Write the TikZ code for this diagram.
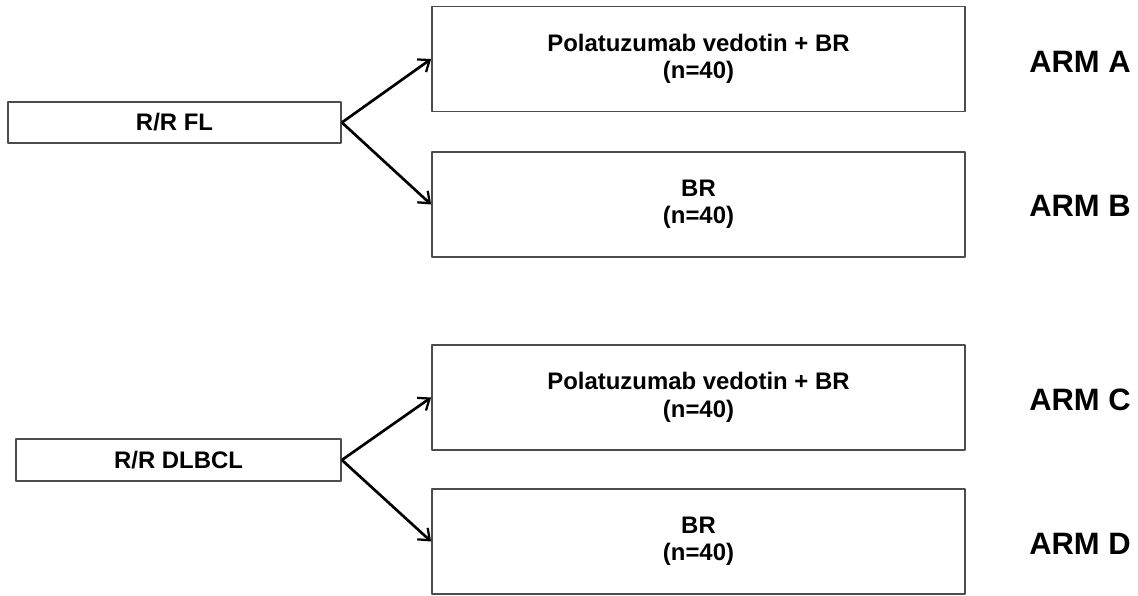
\documentclass[tikz,border=0pt]{standalone}
\usepackage{fontspec}
\setmainfont{Liberation Sans}
\usetikzlibrary{arrows.meta}

\begin{document}
\begin{tikzpicture}[x=0.025cm, y=-0.025cm, line join=round, font=\bfseries\fontsize{17}{19.5}\selectfont,
	grp/.style={draw=black!70, line width=1.2pt, inner sep=0pt, minimum height=1.04cm},
	trt/.style={draw=black!70, line width=1.2pt, inner sep=0pt, align=center, minimum width=13.325cm, minimum height=2.63cm},
	arm/.style={font=\bfseries\fontsize{22}{26}\selectfont},
	arr/.style={-{Straight Barb[length=7pt, width=11pt, line width=1.6pt]}, line width=1.9pt}]
	\useasboundingbox (0,0) rectangle (1138,596);
	% groups
	\node[grp, minimum width=8.325cm] (fl) at (174.5,122.5) {R/R FL};
	\node[grp, minimum width=8.125cm] (dl) at (178.5,460) {R/R DLBCL};
	% treatment arms
	\node[trt] (a) at (698.5,59) {Polatuzumab vedotin + BR\\(n=40)};
	\node[trt] (b) at (698.5,204.5) {BR\\(n=40)};
	\node[trt] (c) at (698.5,397.5) {Polatuzumab vedotin + BR\\(n=40)};
	\node[trt] (d) at (698.5,541.5) {BR\\(n=40)};
	% labels
	\node[arm] (la) at (1080,62) {ARM A};
	\node[arm] (lb) at (1080,206) {ARM B};
	\node[arm] (lc) at (1080,400) {ARM C};
	\node[arm] (ld) at (1080,544) {ARM D};
	% arrows
	\draw[arr] (fl.east) -- (a.west);
	\draw[arr] (fl.east) -- (b.west);
	\draw[arr] (dl.east) -- (c.west);
	\draw[arr] (dl.east) -- (d.west);
\end{tikzpicture}
\end{document}
